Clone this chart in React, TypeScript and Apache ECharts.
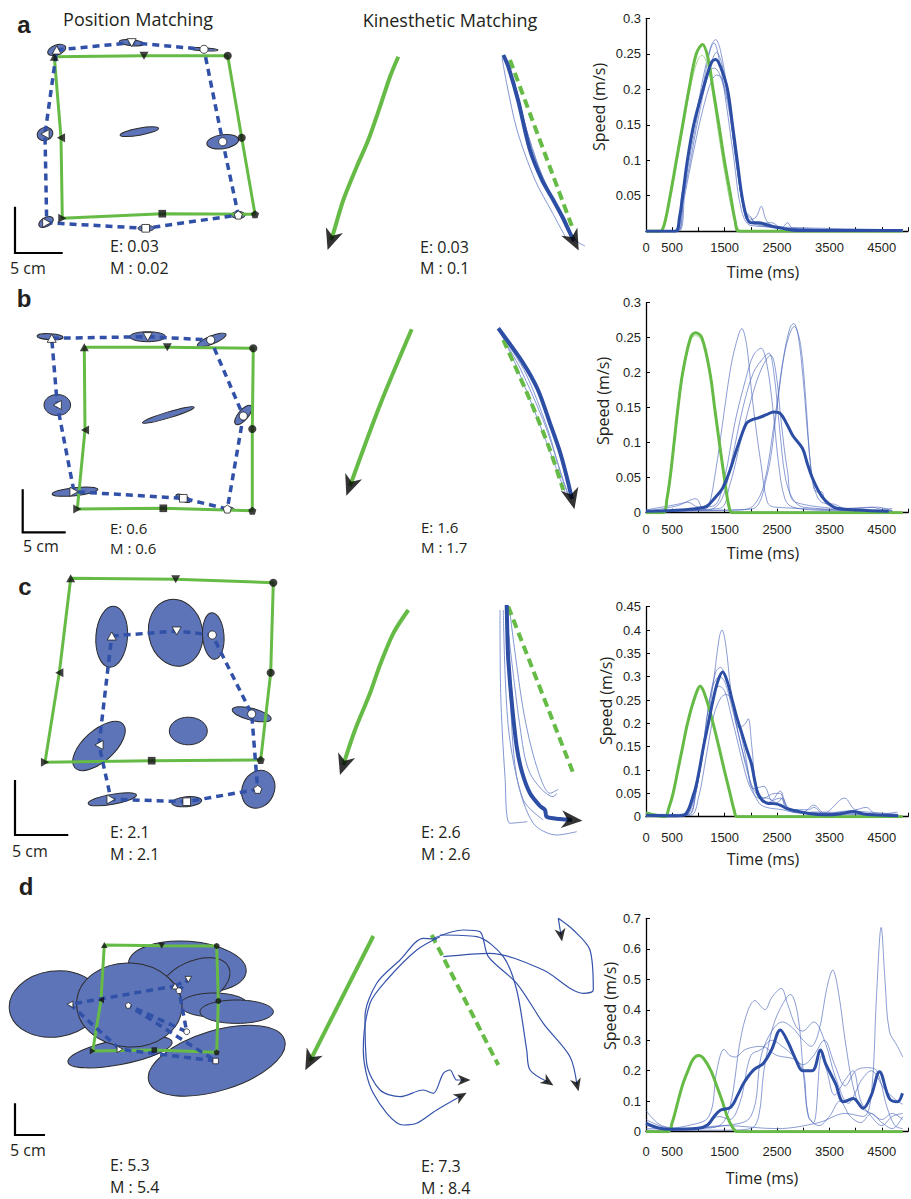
import React, { useEffect, useRef } from "react";
import * as echarts from "echarts";

// ================= Speed profiles (time ms, speed m/s) =================
const TIME_LABELS = [0, 500, 1500, 2500, 3500, 4500];

const A_GREEN = [[0,0],[270,0],[350,0.01],[460,0.05],[580,0.1],[700,0.15],[820,0.2],[960,0.25],[1080,0.263],[1180,0.245],[1280,0.2],[1390,0.15],[1495,0.1],[1615,0.05],[1700,0.015],[1780,0],[4900,0]];
const A_GREEN_THIN = [[0,0],[290,0],[370,0.012],[480,0.05],[600,0.1],[720,0.15],[840,0.2],[980,0.24],[1070,0.248],[1170,0.235],[1280,0.19],[1400,0.13],[1520,0.075],[1640,0.03],[1760,0.004],[1850,0],[4900,0]];
const A_BLUE = [[0,0],[560,0],[640,0.02],[700,0.05],[790,0.1],[910,0.15],[1090,0.2],[1250,0.238],[1330,0.242],[1420,0.232],[1555,0.2],[1650,0.15],[1740,0.1],[1830,0.05],[1920,0.02],[2000,0.012],[2150,0.012],[2350,0.008],[2600,0.004],[2900,0.001],[4900,0.001]];
const A_THIN = [
  [[0,0],[600,0],[700,0.04],[800,0.09],[950,0.15],[1100,0.21],[1250,0.262],[1330,0.27],[1420,0.255],[1550,0.2],[1700,0.11],[1850,0.035],[1950,0.015],[2100,0.02],[2200,0.035],[2300,0.015],[2500,0.005],[4900,0]],
  [[0,0],[580,0],[680,0.04],[800,0.1],[950,0.16],[1100,0.22],[1230,0.258],[1300,0.265],[1400,0.24],[1530,0.18],[1680,0.1],[1820,0.03],[2000,0.008],[2600,0.006],[2700,0.012],[2800,0.004],[4900,0.001]],
  [[0,0],[600,0],[720,0.05],[850,0.1],[1000,0.16],[1180,0.22],[1350,0.252],[1450,0.235],[1580,0.18],[1730,0.09],[1880,0.03],[2000,0.02],[2100,0.01],[2400,0.012],[2600,0.004],[4900,0.002]],
  [[0,0],[570,0],[680,0.05],[820,0.11],[1000,0.18],[1180,0.222],[1300,0.23],[1400,0.222],[1560,0.18],[1720,0.1],[1870,0.03],[2000,0.018],[2150,0.01],[2500,0.006],[4900,0.002]],
  [[0,0],[620,0],[740,0.05],[900,0.11],[1080,0.17],[1250,0.212],[1350,0.22],[1450,0.215],[1600,0.17],[1750,0.09],[1900,0.02],[2050,0.01],[2800,0.003],[4900,0.002]],
];

const B_GREEN = [[0,0],[330,0],[400,0.02],[460,0.05],[536,0.1],[610,0.15],[700,0.2],[850,0.25],[945,0.257],[1066,0.25],[1220,0.2],[1310,0.15],[1400,0.1],[1495,0.05],[1580,0.01],[1650,0],[4900,0]];
const B_GREEN_THIN = [[0,0],[340,0],[410,0.02],[470,0.05],[545,0.1],[620,0.15],[712,0.2],[860,0.248],[950,0.253],[1070,0.245],[1225,0.2],[1318,0.15],[1408,0.1],[1500,0.05],[1590,0.01],[1660,0],[4900,0]];
const B_BLUE = [[0,0.002],[500,0.003],[975,0.006],[1157,0.009],[1300,0.02],[1462,0.035],[1600,0.06],[1706,0.085],[1820,0.11],[1920,0.128],[2030,0.133],[2132,0.135],[2300,0.14],[2437,0.144],[2559,0.142],[2700,0.125],[2803,0.11],[2985,0.092],[3080,0.07],[3168,0.051],[3300,0.03],[3412,0.018],[3540,0.01],[3656,0.006],[4022,0.004],[4631,0.002]];
const B_THIN = [
  [[0,0.002],[600,0.01],[950,0.02],[1100,0.005],[1200,0.01],[1330,0.06],[1462,0.128],[1600,0.2],[1706,0.238],[1828,0.263],[1920,0.24],[2011,0.175],[2100,0.12],[2194,0.07],[2316,0.015],[2450,0.008],[4700,0.002]],
  [[0,0.004],[600,0.012],[800,0.015],[1000,0.008],[1300,0.01],[1500,0.05],[1700,0.13],[1900,0.19],[2050,0.225],[2194,0.235],[2300,0.215],[2420,0.15],[2530,0.07],[2650,0.02],[2800,0.008],[3500,0.003],[4700,0.002]],
  [[0,0.002],[1200,0.004],[1450,0.02],[1650,0.08],[1850,0.15],[2050,0.2],[2250,0.222],[2346,0.228],[2440,0.2],[2550,0.12],[2660,0.05],[2800,0.02],[3000,0.008],[4700,0.002]],
  [[0,0.003],[1400,0.006],[1600,0.04],[1800,0.1],[2000,0.16],[2200,0.205],[2380,0.225],[2480,0.2],[2580,0.13],[2700,0.06],[2850,0.015],[4700,0.003]],
  [[0,0.003],[1800,0.004],[2050,0.01],[2250,0.04],[2450,0.13],[2620,0.22],[2750,0.265],[2820,0.27],[2900,0.255],[3000,0.19],[3100,0.1],[3200,0.04],[3350,0.015],[3600,0.012],[3800,0.006],[4300,0.008],[4500,0.005],[4700,0.006]],
  [[0,0.002],[2000,0.005],[2300,0.05],[2500,0.15],[2650,0.23],[2830,0.266],[2950,0.24],[3050,0.16],[3150,0.06],[3250,0.03],[3350,0.03],[3450,0.012],[4000,0.006],[4400,0.008],[4700,0.003]],
];

const C_GREEN = [[0,0.008],[200,0.003],[360,0],[440,0.02],[517,0.05],[609,0.1],[700,0.15],[792,0.2],[914,0.25],[1035,0.28],[1157,0.25],[1280,0.2],[1390,0.15],[1494,0.1],[1603,0.05],[1680,0.015],[1740,0],[4900,0]];
const C_GREEN_THIN = [[0,0],[370,0],[450,0.02],[525,0.05],[615,0.1],[708,0.15],[800,0.2],[920,0.245],[1040,0.274],[1160,0.246],[1285,0.2],[1395,0.15],[1500,0.1],[1608,0.05],[1690,0.015],[1750,0],[4900,0]];
const C_BLUE = [[0,0.003],[500,0.002],[730,0.004],[914,0.05],[1000,0.09],[1097,0.15],[1190,0.2],[1280,0.25],[1370,0.29],[1462,0.31],[1550,0.29],[1645,0.25],[1740,0.21],[1828,0.179],[1920,0.145],[2011,0.114],[2070,0.08],[2133,0.05],[2220,0.035],[2316,0.029],[2440,0.028],[2559,0.025],[2680,0.018],[2803,0.014],[3100,0.007],[3412,0.004],[3700,0.006],[3960,0.011],[4150,0.006],[4326,0.004],[4813,0.002]];
const C_THIN = [
  [[0,0],[700,0],[850,0.02],[1000,0.08],[1150,0.18],[1300,0.3],[1400,0.385],[1450,0.4],[1520,0.37],[1620,0.27],[1720,0.2],[1820,0.15],[1920,0.11],[2050,0.06],[2250,0.065],[2400,0.035],[2560,0.055],[2700,0.02],[3000,0.01],[3200,0.025],[3400,0.008],[3790,0.04],[4000,0.015],[4200,0.02],[4400,0.005],[4800,0.01]],
  [[0,0.01],[300,0.003],[750,0.003],[900,0.03],[1050,0.12],[1200,0.24],[1330,0.31],[1420,0.32],[1520,0.3],[1650,0.24],[1780,0.19],[1900,0.2],[1950,0.21],[2020,0.15],[2100,0.07],[2250,0.04],[2450,0.05],[2560,0.05],[2700,0.015],[3100,0.015],[3200,0.02],[3400,0.005],[3800,0.012],[4800,0.005]],
  [[0,0.005],[800,0.005],[950,0.05],[1100,0.15],[1250,0.24],[1390,0.28],[1500,0.27],[1620,0.22],[1750,0.16],[1880,0.1],[2000,0.06],[2150,0.04],[2300,0.04],[2500,0.03],[2600,0.04],[2750,0.012],[3100,0.008],[4800,0.004]],
  [[0,0.003],[850,0.003],[1000,0.04],[1150,0.13],[1300,0.22],[1430,0.255],[1530,0.262],[1640,0.25],[1760,0.2],[1900,0.13],[2000,0.07],[2150,0.03],[2300,0.02],[2600,0.015],[2900,0.008],[3200,0.01],[4800,0.003]],
  [[0,0.003],[800,0.003],[950,0.05],[1100,0.16],[1250,0.27],[1400,0.3],[1500,0.29],[1650,0.23],[1800,0.16],[1950,0.09],[2100,0.05],[2300,0.03],[2560,0.04],[2700,0.02],[3000,0.01],[4800,0.003]],
];

const D_GREEN = [[0,0],[420,0],[500,0.03],[612,0.1],[700,0.155],[800,0.2],[900,0.238],[1006,0.25],[1100,0.24],[1238,0.2],[1350,0.15],[1456,0.1],[1550,0.05],[1650,0.015],[1740,0],[4900,0]];
const D_BLUE = [[0,0.028],[238,0.012],[488,0.008],[988,0.011],[1175,0.022],[1300,0.05],[1425,0.071],[1613,0.08],[1750,0.12],[1863,0.159],[2050,0.202],[2238,0.224],[2400,0.27],[2563,0.334],[2706,0.295],[2863,0.235],[2988,0.2],[3175,0.2],[3331,0.268],[3425,0.224],[3613,0.159],[3769,0.098],[3956,0.109],[4144,0.077],[4300,0.12],[4456,0.197],[4644,0.109],[4800,0.098],[4894,0.126]];
const D_THIN = [
  [[0,0.07],[300,0.02],[800,0.01],[1500,0.02],[2500,0.01],[3300,0.03],[3800,0.06],[4150,0.05],[4300,0.12],[4400,0.45],[4488,0.67],[4560,0.5],[4644,0.33],[4800,0.28],[4900,0.245]],
  [[0,0.02],[500,0.005],[1000,0.01],[1400,0.02],[1600,0.08],[1800,0.3],[1950,0.4],[2081,0.43],[2200,0.41],[2269,0.4],[2400,0.44],[2581,0.47],[2700,0.42],[2863,0.345],[2988,0.33],[3200,0.36],[3425,0.29],[3613,0.18],[3863,0.093],[4000,0.13],[4113,0.17],[4300,0.2],[4550,0.14],[4800,0.1],[4900,0.09]],
  [[0,0.04],[500,0.01],[1500,0.02],[2000,0.05],[2200,0.25],[2400,0.33],[2600,0.36],[2800,0.34],[3000,0.3],[3150,0.28],[3300,0.33],[3450,0.47],[3563,0.53],[3680,0.45],[3800,0.3],[3950,0.15],[4100,0.08],[4300,0.06],[4500,0.04],[4700,0.06],[4900,0.04]],
  [[0,0.005],[1500,0.005],[2000,0.01],[2150,0.05],[2250,0.2],[2400,0.33],[2550,0.4],[2756,0.45],[2900,0.38],[3000,0.2],[3100,0.05],[3200,0.03],[3350,0.25],[3450,0.2],[3600,0.12],[3800,0.17],[3950,0.2],[4100,0.1],[4300,0.05],[4500,0.02],[4700,0.05],[4900,0.06]],
  [[0,0.03],[300,0.01],[800,0.02],[1200,0.05],[1350,0.2],[1488,0.27],[1600,0.25],[1700,0.245],[1900,0.27],[2200,0.28],[2500,0.25],[2800,0.24],[3000,0.22],[3200,0.25],[3400,0.3],[3600,0.22],[3800,0.15],[4000,0.2],[4200,0.21],[4400,0.2],[4600,0.08],[4750,0.02],[4900,0.01]],
  [[0,0.01],[1000,0.01],[1400,0.05],[1600,0.04],[1800,0.1],[2000,0.25],[2200,0.27],[2400,0.3],[2600,0.28],[2800,0.25],[3000,0.2],[3100,0.05],[3300,0.02],[3500,0.05],[3700,0.1],[3900,0.05],[4100,0.03],[4300,0.06],[4500,0.03],[4700,0.01],[4900,0.05]],
];

// ================= Position matching (page units) =================
// order: TL, top-mid, TR, right-mid, BR, bottom-mid, BL, left-mid
const TARGET_A = [[54.3,56.7],[144,55.7],[227.7,55.7],[241.7,137.7],[255,214.3],[162.3,213.7],[62.3,218.3],[61,137.7]];
const RESP_A = [[56.7,50],[131.7,42.7],[204,49.3],[222.7,141.7],[238.3,215],[145.7,228.3],[46.7,222.7],[45,134]];
const TARGET_B = [[84.3,347.3],[167.3,347.3],[253.3,348.3],[252.3,429],[252.3,510.7],[163.3,508.3],[77.3,509],[85,430]];
const RESP_B = [[51.7,338.3],[147.7,336.7],[210.7,340],[243.3,416],[227.3,509],[183.3,498.3],[74,491.7],[57.3,405]];
const TARGET_C = [[70.7,578.3],[175.7,579.3],[273.3,582.7],[270.7,672.7],[260.7,760],[151.7,760.7],[45,762.3],[59.3,672.7]];
const RESP_C = [[111.7,636],[176.7,631],[212.3,635],[251.7,714],[257.7,789.3],[186.7,801.7],[111,799.3],[99,745]];
const TARGET_D = [[104.3,945],[161.7,945.7],[216.7,946],[218.3,1001],[216.7,1052.3],[154.3,1050],[92.7,1051],[101,1000]];
const RESP_D = [[175,986],[188.3,979.3],[179,990.7],[186.7,1031.7],[128.3,1005.3],[215.7,1061],[120,1049.3],[70,1004.3]];

// response ellipses: cx, cy, rx, ry, angle (deg, ccw)
const ELL_A = [[56.7,50,9.5,5,20],[131.7,42.7,12.5,3,-5],[204,49.3,14,1.6,-3],[222.7,141.7,16,7,8],[238.3,215,7,3.5,0],[146,228.3,8,3,0],[46,222,8,4.5,30],[45,134,8,6.5,20],[139.3,131.7,19.5,3.5,10]];
const ELL_B = [[50,336.7,13,3,-3],[147.7,336.7,18,5,0],[211.7,340,15.4,4,22],[243.3,415,12,5,50],[228,509,6,2,0],[183.3,498.3,8,3,-22],[75,491.7,23,4,6],[57.3,405,13.3,10.5,0],[168.3,415,27,3,17]];
const ELL_C = [[111.7,636.7,15.8,30.5,-4],[175.7,632.7,27,33.7,12],[213.3,636,10.7,23.3,4],[251.7,714.3,20,6,-14],[258.3,789.3,16,19.5,-25],[186.7,801.7,15,5,5],[112.3,799.3,24.5,5,10],[99,746,32.5,15.5,42],[188.3,731,19,13.8,0]];
const ELL_D = [[55,1004,46,33,8],[187.3,967.3,59,26,-4],[194.3,983.3,38,22,25],[214,1005,34,12,0],[236.7,1011.7,36.7,11.7,0],[120,1052,53,12.5,11],[129.3,1005,52.7,42,-3],[216.7,1060.7,71,30,17]];

// ================= Kinesthetic matching trajectories (page units) =================
const KIN_A_GREEN = [[398.3,56.7],[390,76.7],[380,106.7],[368.3,140],[356.7,166.7],[343.3,200],[333.3,233.3],[331,240]];
const KIN_A_BLUE = [[503.3,55],[508.3,66.7],[518,100],[530,150],[542,180],[553.3,200],[563,218],[570,233],[574,241]];
const KIN_A_DASH = [[510,60],[573.3,230]];
const KIN_A_THIN = [
  [[504,57],[512,80],[525,125],[540,170],[556,205],[568,228],[578,242]],
  [[505,56],[515,85],[528,135],[545,185],[560,215],[572,238],[585,246]],
  [[502,58],[507,85],[517,130],[535,180],[552,212],[566,238]],
];
const KIN_B_GREEN = [[411.7,329.3],[380,405],[350,486]];
const KIN_B_BLUE = [[498.3,328.3],[523.3,363.3],[538,390],[550,423.3],[560,452],[566.7,476.7],[572,499]];
const KIN_B_DASH = [[503.3,340],[530,400],[550,450],[563.3,490]];
const KIN_B_THIN = [
  [[500,333],[520,368],[545,425],[560,470],[568,495]],
  [[502,335],[518,370],[538,420],[555,465],[565,492]],
  [[499,331],[525,372],[548,430],[562,478],[570,498]],
];
const KIN_C_GREEN = [[408.3,610],[393.3,633.3],[380,665],[370,693.3],[355,730],[343.3,765]];
const KIN_C_BLUE = [[506.7,605],[507.5,640],[508.3,660],[512,705],[516.7,746.7],[522,772],[530,793.3],[540,806],[545,810],[546.7,816.7],[560,819],[572,820]];
const KIN_C_DASH = [[508.3,606.7],[573.3,773.3]];
const KIN_C_THIN = [
  [[500,610],[500.7,693.3],[505,776.7],[510,823.3],[527.3,821.7]],
  [[510,613.3],[523.3,710],[536.7,766.7],[550,793.3],[558.3,789.3]],
  [[506.7,616.7],[520,726.7],[530,773.3],[553.3,796.7],[556.7,793.3]],
  [[506.7,606.7],[510,693.3],[516.7,776.7],[533.3,823.3],[556.7,835],[576.7,831.7]],
  [[503.3,610],[508.3,726.7],[523.3,800],[543.3,820]],
];
const KIN_D_GREEN = [[373.3,936],[310,1061]];
const KIN_D_DASH = [[431.7,935],[498.3,1065]];
const KIN_D_TRACES = [
  [[436.7,939.3],[423.3,938.3],[400,960],[376.7,983.3],[365,1016.7],[366.7,1063.3],[380,1090],[400,1096.7],[423.3,1090],[433.3,1093.3],[443.3,1073.3],[450,1070],[456.7,1080],[464,1080]],
  [[440,936.7],[416.7,950],[386.7,980],[370,1003.3],[363.3,1050],[373.3,1093.3],[403.3,1125],[416.7,1123.3],[436.7,1110],[461,1096]],
  [[443.3,956.7],[490,953.3],[543.3,970],[583.3,993.3],[593.3,990],[590,950],[573.3,930],[558.3,918.3],[561,935]],
  [[433.3,938.3],[463.3,930],[480,931.7],[488.3,956.7],[516.7,983.3],[543.3,1023.3],[570,1056.7],[577,1085]],
  [[440,935],[476.7,936.7],[503.3,956.7],[516.7,990],[526.7,1050],[530,1070],[548,1082]],
];

const GREEN = "#66bb46";
const GREEN_LIGHT = "#a9da93";
const BLUE = "#2d4ea5";
const BLUE_DASH = "#3151a8";
const BLUE_THIN = "#4e68bd";
const ELL_FILL = "#5d74b8";
const PENTA = "path://M50,0 L97.6,34.5 L79.4,90.5 L20.6,90.5 L2.4,34.5 Z";
const ARROW = "path://M12,0 L24,28 L12,20 L0,28 Z";
const SYM = ["triangle", "triangle", "circle", "circle", PENTA, "rect", "triangle", "triangle"];
const ROT = [0, 180, 0, 0, 0, 0, -90, 90];

function markers(points: number[][], size: number) {
  return points.map((p, i) => ({
    value: p,
    symbol: SYM[i],
    symbolRotate: ROT[i],
    symbolSize: SYM[i] === "rect" ? size * 0.85 : SYM[i] === "triangle" ? [size, size * 0.9] : size * 0.9,
  }));
}

function arrowAt(path: number[][], size: number[]) {
  const p2 = path[path.length - 1];
  const p1 = path[path.length - 2];
  const ang = (Math.atan2(-(p2[1] - p1[1]), p2[0] - p1[0]) * 180) / Math.PI;
  return { value: p2, symbolRotate: ang - 90, symbolSize: size };
}

function buildOption() {
  const series: any[] = [];
  const rows = [
    { t: TARGET_A, r: RESP_A, e: ELL_A, mk: 9 },
    { t: TARGET_B, r: RESP_B, e: ELL_B, mk: 9 },
    { t: TARGET_C, r: RESP_C, e: ELL_C, mk: 9 },
    { t: TARGET_D, r: RESP_D, e: ELL_D, mk: 6.5 },
  ];
  const base = { xAxisIndex: 0, yAxisIndex: 0, silent: true, animation: false };
  rows.forEach((row) => {
    series.push({
      ...base,
      type: "custom",
      z: 1,
      encode: { x: 0, y: 1 },
      data: row.e,
      renderItem: (_p: any, api: any) => {
        const c = api.coord([api.value(0), api.value(1)]);
        const s = api.size([api.value(2), api.value(3)]);
        return {
          type: "ellipse",
          x: c[0],
          y: c[1],
          rotation: (api.value(4) * Math.PI) / 180,
          shape: { cx: 0, cy: 0, rx: s[0], ry: s[1] },
          style: { fill: ELL_FILL, stroke: "#2b2b2b", lineWidth: 1 },
        };
      },
    });
    series.push({
      ...base, type: "line", z: 2, symbol: "none",
      data: row.t.concat([row.t[0]]),
      lineStyle: { color: GREEN, width: 3 },
    });
    series.push({
      ...base, type: "line", z: 3, symbol: "none",
      data: row.r.concat([row.r[0]]),
      lineStyle: { color: BLUE_DASH, width: 3.5, type: [7, 5] },
    });
    series.push({
      ...base, type: "scatter", z: 5,
      data: markers(row.t, row.mk),
      itemStyle: { color: "#111" },
    });
    series.push({
      ...base, type: "scatter", z: 6,
      data: markers(row.r, row.mk),
      itemStyle: { color: "#fff", borderColor: "#222", borderWidth: 0.8, opacity: 1 },
    });
  });

  const kinLine = (data: number[][], color: string, width: number, extra: any = {}) => ({
    ...base, type: "line", symbol: "none", smooth: 0.3, data,
    lineStyle: { color, width, ...(extra.lineStyle || {}) },
    z: extra.z || 3,
  });
  [KIN_A_THIN, KIN_B_THIN, KIN_C_THIN].forEach((group) =>
    group.forEach((d) => series.push(kinLine(d, "#8296d2", 1, { z: 2 })))
  );
  [KIN_A_DASH, KIN_B_DASH, KIN_C_DASH, KIN_D_DASH].forEach((d) =>
    series.push(kinLine(d, GREEN, 4, { lineStyle: { type: [9, 5] }, z: 3 }))
  );
  [KIN_A_GREEN, KIN_B_GREEN, KIN_C_GREEN, KIN_D_GREEN].forEach((d) => series.push(kinLine(d, GREEN, 4, { z: 3 })));
  [KIN_A_BLUE, KIN_B_BLUE, KIN_C_BLUE].forEach((d) => series.push(kinLine(d, BLUE, 4, { z: 4 })));
  KIN_D_TRACES.forEach((d) => series.push(kinLine(d, "#3553ab", 1.2, { z: 4 })));

  const arrows = [
    arrowAt(KIN_A_GREEN, [18, 21]), arrowAt(KIN_A_BLUE, [18, 21]),
    arrowAt(KIN_B_GREEN, [18, 21]), arrowAt(KIN_B_BLUE, [18, 21]),
    arrowAt(KIN_C_GREEN, [18, 21]), arrowAt(KIN_C_BLUE, [18, 21]),
    arrowAt(KIN_D_GREEN, [18, 21]),
    ...KIN_D_TRACES.map((d) => arrowAt(d, [11, 13])),
  ];
  series.push({ ...base, type: "scatter", z: 7, symbol: ARROW, data: arrows, itemStyle: { color: "#000" } });

  // ---------- speed panels ----------
  const panels = [
    { top: 18.3, height: 212.9, ymax: 0.3, ystep: 0.05, hideZero: true, margin: 10, green: A_GREEN, greenThin: [A_GREEN_THIN], blue: A_BLUE, thin: A_THIN },
    { top: 302.7, height: 210, ymax: 0.3, ystep: 0.05, hideZero: false, margin: 10, green: B_GREEN, greenThin: [B_GREEN_THIN], blue: B_BLUE, thin: B_THIN },
    { top: 606.7, height: 210, ymax: 0.45, ystep: 0.05, hideZero: false, margin: 14, green: C_GREEN, greenThin: [C_GREEN_THIN], blue: C_BLUE, thin: C_THIN },
    { top: 918.3, height: 213.4, ymax: 0.7, ystep: 0.1, hideZero: false, margin: 13, green: D_GREEN, greenThin: [], blue: D_BLUE, thin: D_THIN },
  ];
  const grids: any[] = [{ left: 0, top: 0, width: 911, height: 1199 }];
  const xAxes: any[] = [{ gridIndex: 0, type: "value", min: 0, max: 911, show: false }];
  const yAxes: any[] = [{ gridIndex: 0, type: "value", min: 0, max: 1199, inverse: true, show: false }];
  const axisLine = { show: true, onZero: false, lineStyle: { color: "#000", width: 1.3 } };
  const tick = { show: true, inside: true, length: 4, lineStyle: { color: "#000", width: 1 } };
  const lab = { fontFamily: "Liberation Sans, Arial, sans-serif", fontSize: 13, color: "#231f20" };
  panels.forEach((p, k) => {
    const gi = k + 1;
    grids.push({ left: 646, top: p.top, width: 267.5, height: p.height });
    xAxes.push({
      gridIndex: gi, type: "value", min: 0, max: 5000, interval: 500,
      axisLine, axisTick: tick, splitLine: { show: false },
      axisLabel: { ...lab, margin: p.margin, formatter: (v: number) => (TIME_LABELS.indexOf(v) >= 0 ? String(v) : "") },
    });
    yAxes.push({
      gridIndex: gi, type: "value", min: 0, max: p.ymax, interval: p.ystep,
      axisLine, axisTick: tick, splitLine: { show: false },
      axisLabel: { ...lab, margin: 5, formatter: (v: number) => (p.hideZero && v === 0 ? "" : String(Math.round(v * 100) / 100)) },
    });
    const sp = (data: number[][], color: string, width: number, z: number, opacity = 1) => ({
      type: "line", xAxisIndex: gi, yAxisIndex: gi, data, smooth: 0.35, symbol: "none",
      silent: true, z, lineStyle: { color, width, opacity },
    });
    p.thin.forEach((d) => series.push(sp(d, BLUE_THIN, 1, 2, 0.65)));
    p.greenThin.forEach((d) => series.push(sp(d, GREEN_LIGHT, 1, 3)));
    series.push(sp(p.green, GREEN, 3, 4));
    series.push(sp(p.blue, BLUE, 3, 5));
  });

  // ---------- texts ----------
  const txt = (text: string, x: number, y: number, font: string, align = "left", rot = 0) => ({
    type: "text", x, y, rotation: rot, silent: true, z: 100,
    style: { text, font, fill: "#231f20", textAlign: align, textVerticalAlign: "middle", align, verticalAlign: "middle" },
  });
  const F = '16px "Open Sans", "Noto Sans", sans-serif';
  const FS = '15px "Open Sans", "Noto Sans", sans-serif';
  const FT = '18px "Open Sans", "Noto Sans", sans-serif';
  const FB = 'bold 24px "Liberation Sans", Arial, sans-serif';
  const graphic: any[] = [
    txt("a", 24, 24, FB, "center"), txt("b", 24, 298, FB, "center"),
    txt("c", 25, 586, FB, "center"), txt("d", 26, 886, FB, "center"),
    txt("Position Matching", 138, 19, FT, "center"),
    txt("Kinesthetic Matching", 450, 20, FT, "center"),
    txt("E: 0.03", 110, 246, F), txt("M : 0.02", 110, 268, F),
    txt("E: 0.03", 420, 247, F), txt("M : 0.1", 420, 268, F),
    txt("E: 0.6", 110, 528, FS), txt("M : 0.6", 110, 548, FS),
    txt("E: 1.6", 421, 527, FS), txt("M : 1.7", 421, 547, FS),
    txt("E: 2.1", 110, 832, F), txt("M : 2.1", 110, 854, F),
    txt("E: 2.6", 421, 832, F), txt("M : 2.6", 421, 854, F),
    txt("E: 5.3", 110, 1165, F), txt("M : 5.4", 110, 1187, F),
    txt("E: 7.3", 421, 1166, F), txt("M : 8.4", 421, 1188, F),
    txt("5 cm", 10, 268, F), txt("5 cm", 23, 546, F), txt("5 cm", 12, 851, F), txt("5 cm", 10, 1150, F),
    txt("Speed (m/s)", 599, 107, F, "center", Math.PI / 2),
    txt("Speed (m/s)", 603, 401, F, "center", Math.PI / 2),
    txt("Speed (m/s)", 606, 701, F, "center", Math.PI / 2),
    txt("Speed (m/s)", 610, 1006, F, "center", Math.PI / 2),
    txt("Time (ms)", 763, 272, F, "center"),
    txt("Time (ms)", 763, 553, F, "center"),
    txt("Time (ms)", 763, 859, F, "center"),
    txt("Time (ms)", 762, 1178, F, "center"),
  ];
  const bars = [
    [[15, 206.7], [15, 253], [62.7, 253]],
    [[22.7, 489.3], [22.7, 532.3], [65.7, 532.3]],
    [[15, 780], [15, 835], [68.3, 835]],
    [[15, 1103.3], [15, 1135], [45, 1135]],
  ];
  bars.forEach((pts) =>
    graphic.push({ type: "polyline", silent: true, z: 100, shape: { points: pts }, style: { stroke: "#000", lineWidth: 2.2, fill: "none" } })
  );

  return { animation: false, backgroundColor: "#fff", grid: grids, xAxis: xAxes, yAxis: yAxes, series, graphic };
}

export default function App() {
  const ref = useRef<HTMLDivElement>(null);
  useEffect(() => {
    if (!ref.current) return;
    const chart = echarts.init(ref.current, null, { renderer: "svg" });
    chart.setOption(buildOption() as any);
    return () => chart.dispose();
  }, []);
  return <div ref={ref} style={{ position: "absolute", left: 0, top: 0, width: 911, height: 1199, background: "#fff" }} />;
}
